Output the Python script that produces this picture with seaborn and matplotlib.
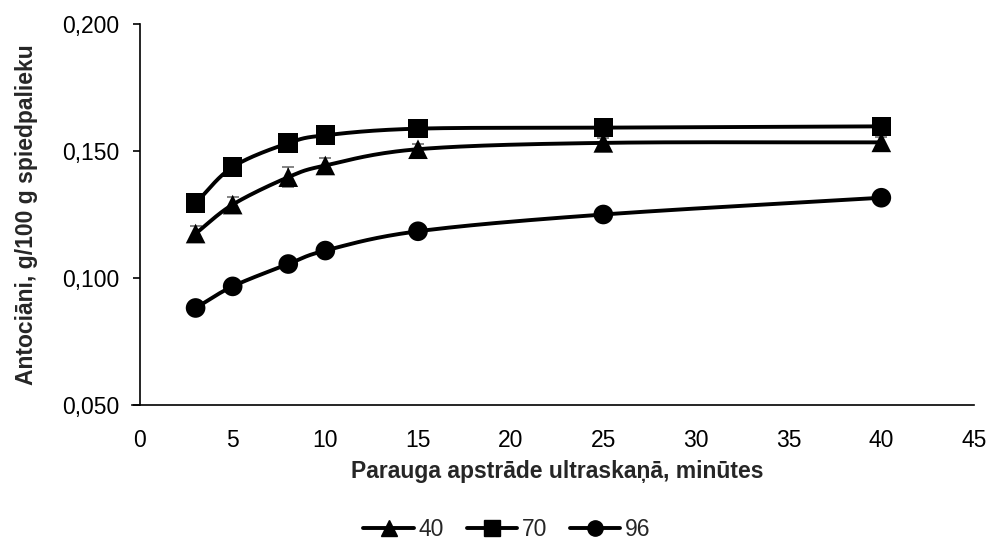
import numpy as np
import pandas as pd
import matplotlib
matplotlib.use("Agg")
import matplotlib.pyplot as plt
from matplotlib.lines import Line2D
from matplotlib.ticker import FuncFormatter, MultipleLocator
import seaborn as sns

# Ultrasound treatment time, minutes
minutes = [3, 5, 8, 10, 15, 25, 40]

# Anthocyanins, g/100 g press residue, for each ethanol concentration
s40 = [0.1175, 0.1289, 0.1397, 0.1443, 0.1507, 0.1532, 0.1534]
s70 = [0.1295, 0.1437, 0.1531, 0.1562, 0.1588, 0.1592, 0.1597]
s96 = [0.0882, 0.0967, 0.1055, 0.1108, 0.1184, 0.1250, 0.1316]

# Standard deviations
e40 = [0.003, 0.003, 0.004, 0.003, 0.002, 0.002, 0.002]
e70 = [0.002, 0.002, 0.003, 0.003, 0.003, 0.003, 0.003]
e96 = [0.001, 0.001, 0.001, 0.001, 0.001, 0.001, 0.001]

series_names = ["40", "70", "96"]
markers = {"40": "^", "70": "s", "96": "o"}

df = pd.DataFrame({
    "min": minutes * 3,
    "val": s40 + s70 + s96,
    "err": e40 + e70 + e96,
    "series": sum([[n] * len(minutes) for n in series_names], []),
})

sns.set_theme(style="white")
plt.rcParams["font.family"] = ["Liberation Sans", "DejaVu Sans"]
FS = 16.5


def smooth(x, y, n=30):
    """Catmull-Rom style smoothing curve through the points."""
    x = np.asarray(x, float)
    y = np.asarray(y, float)
    px = np.concatenate([[2 * x[0] - x[1]], x, [2 * x[-1] - x[-2]]])
    py = np.concatenate([[2 * y[0] - y[1]], y, [2 * y[-1] - y[-2]]])
    xs, ys = [], []
    t = np.linspace(0, 1, n)
    for i in range(1, len(px) - 2):
        p0, p1, p2, p3 = (np.array([px[j], py[j]]) for j in range(i - 1, i + 3))
        c1 = p1 + (p2 - p0) / 6
        c2 = p2 - (p3 - p1) / 6
        b = ((1 - t) ** 3)[:, None] * p1 + (3 * (1 - t) ** 2 * t)[:, None] * c1 \
            + (3 * (1 - t) * t ** 2)[:, None] * c2 + (t ** 3)[:, None] * p2
        xs.append(b[:, 0])
        ys.append(b[:, 1])
    return np.concatenate(xs), np.concatenate(ys)


fig = plt.figure(figsize=(9.9, 5.48), dpi=100)
ax = fig.add_axes([140 / 990, 1 - 405 / 548, (974 - 140) / 990, (405 - 24) / 548])

for name in series_names:
    sub = df[df["series"] == name]
    cx, cy = smooth(sub["min"], sub["val"])
    ax.plot(cx, cy, color="black", lw=2.8, zorder=2, solid_capstyle="round")
    ax.errorbar(sub["min"], sub["val"], yerr=sub["err"], fmt="none",
                ecolor="#707070", elinewidth=1.2, capsize=4, capthick=1.2, zorder=1)

sns.scatterplot(data=df, x="min", y="val", style="series", markers=markers,
                color="black", s=200, edgecolor="black", linewidth=0,
                legend=False, ax=ax, zorder=3)

ax.set_xlim(0, 45)
ax.set_ylim(0.05, 0.2)
ax.xaxis.set_major_locator(MultipleLocator(5))
ax.yaxis.set_major_locator(MultipleLocator(0.05))
ax.yaxis.set_major_formatter(FuncFormatter(lambda v, p: f"{v:.3f}".replace(".", ",")))

for side in ("top", "right"):
    ax.spines[side].set_visible(False)
for side in ("left", "bottom"):
    ax.spines[side].set_color("black")
    ax.spines[side].set_linewidth(1.2)
ax.spines["bottom"].set_bounds(-0.42, 45)

ax.tick_params(axis="y", left=True, direction="out", length=5, width=1.2,
               labelsize=FS, colors="black", pad=10)
ax.tick_params(axis="x", bottom=False, labelsize=FS, colors="black", pad=11)

ax.set_xlabel("Parauga apstrāde ultraskaņā, minūtes", fontsize=FS,
              fontweight="bold", labelpad=6)
ax.set_ylabel("Antociāni, g/100 g spiedpalieku", fontsize=FS,
              fontweight="bold", labelpad=17)

handles = [Line2D([0], [0], color="black", lw=2.8, marker=markers[n],
                  markersize=11) for n in series_names]
fig.legend(handles, series_names, loc="center", bbox_to_anchor=(507 / 990, 1 - 530 / 548),
           ncol=3, frameon=False, fontsize=FS, handlelength=2.2,
           handletextpad=0.2, columnspacing=1.0)

fig.savefig("out.png", dpi=100)
